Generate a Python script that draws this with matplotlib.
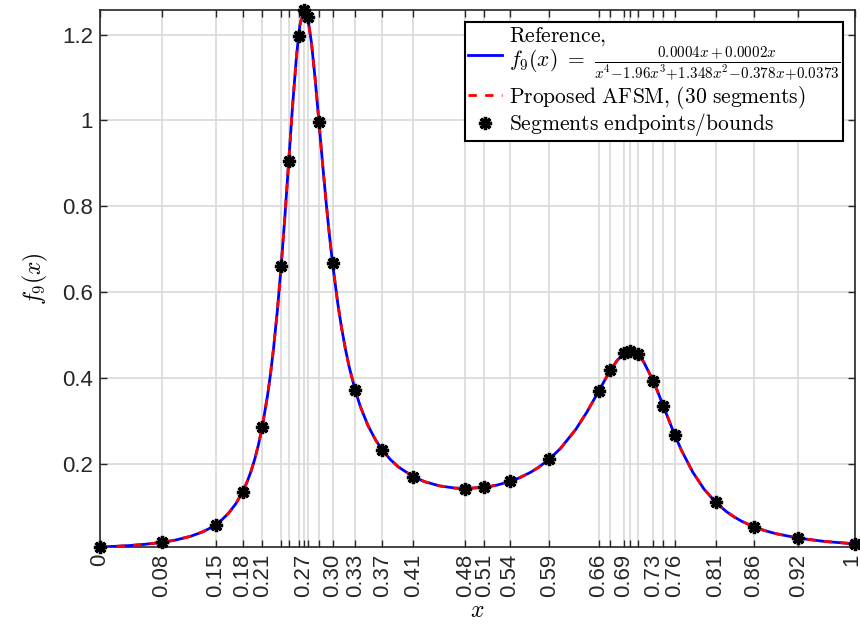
import matplotlib
matplotlib.use('Agg')
import matplotlib.pyplot as plt
import matplotlib.transforms as mtransforms

# Segment endpoints (x positions of the 30-segment bounds) and values
seg_x = [0, 0.082, 0.153, 0.189, 0.215, 0.240, 0.250, 0.263, 0.270, 0.275, 0.290,
         0.308, 0.338, 0.374, 0.415, 0.484, 0.509, 0.543, 0.595, 0.661, 0.676,
         0.694, 0.702, 0.712, 0.733, 0.746, 0.761, 0.8155, 0.866, 0.925, 1.0]
seg_y = [0.0054, 0.0162, 0.0574, 0.1342, 0.2863, 0.6613, 0.9057, 1.197, 1.2575, 1.2415, 0.9962,
         0.6672, 0.3707, 0.2313, 0.1692, 0.1418, 0.1445, 0.1582, 0.2100, 0.3703, 0.4171,
         0.4566, 0.4620, 0.4547, 0.3918, 0.3344, 0.2677, 0.1095, 0.0526, 0.0261, 0.0127]
xtick_labels = ['0', '0.08', '0.15', '0.18', '0.21', '', '', '', '0.27', '', '',
                '0.30', '0.33', '0.37', '0.41', '0.48', '0.51', '0.54', '0.59', '0.66', '',
                '0.69', '', '', '0.73', '', '0.76', '0.81', '0.86', '0.92', '1']

# Reference curve values
ref_x = [0, 0.02, 0.04, 0.06, 0.082, 0.1, 0.12, 0.135, 0.145, 0.153, 0.162, 0.17, 0.18,
         0.189, 0.195, 0.2, 0.205, 0.21, 0.215, 0.222, 0.226, 0.23, 0.235, 0.24, 0.245, 0.25,
         0.255, 0.26, 0.263, 0.265, 0.27, 0.275, 0.28, 0.285, 0.29, 0.295, 0.30, 0.304, 0.308,
         0.315, 0.32, 0.325, 0.33, 0.338, 0.345, 0.355, 0.365, 0.374, 0.385, 0.395, 0.415,
         0.43, 0.45, 0.47, 0.484, 0.509, 0.525, 0.543, 0.555, 0.57, 0.58, 0.595, 0.61,
         0.63, 0.645, 0.661, 0.67, 0.676, 0.685, 0.694, 0.702, 0.707, 0.712, 0.72, 0.733,
         0.74, 0.746, 0.761, 0.77, 0.785, 0.8, 0.8155, 0.83, 0.84, 0.85, 0.866, 0.88,
         0.895, 0.925, 0.96, 1.0]
ref_y = [0.0054, 0.0069, 0.0089, 0.0118, 0.0162, 0.0216, 0.0304, 0.0400, 0.0487, 0.0574, 0.0698, 0.0837, 0.1065,
         0.1342, 0.1579, 0.1818, 0.2104, 0.2448, 0.2863, 0.3596, 0.4110, 0.4707, 0.5584, 0.6613, 0.7787, 0.9057,
         1.0325, 1.1446, 1.197, 1.2240, 1.2575, 1.2415, 1.1823, 1.0960, 0.9962, 0.8953, 0.8000, 0.7302, 0.6672,
         0.5725, 0.5160, 0.4674, 0.4257, 0.3707, 0.3320, 0.2884, 0.2550, 0.2313, 0.2086, 0.1924, 0.1692,
         0.1577, 0.1478, 0.1428, 0.1418, 0.1445, 0.1494, 0.1582, 0.1663, 0.1793, 0.1901, 0.2100, 0.2354,
         0.2792, 0.3203, 0.3703, 0.3990, 0.4171, 0.4406, 0.4566, 0.4620, 0.4604, 0.4547, 0.4374, 0.3918,
         0.3616, 0.3344, 0.2677, 0.2314, 0.1803, 0.1405, 0.1095, 0.0875, 0.0755, 0.0654, 0.0526, 0.0439,
         0.0366, 0.0261, 0.0183, 0.0127]

yticks = [0.2, 0.4, 0.6, 0.8, 1.0, 1.2]
ytick_labels = ['0.2', '0.4', '0.6', '0.8', '1', '1.2']

plt.rcParams['mathtext.fontset'] = 'cm'
plt.rcParams['font.family'] = ['Liberation Sans', 'DejaVu Sans']

fig = plt.figure(figsize=(8.6, 6.26), dpi=100)
ax = fig.add_axes([100/860, 1-547/626, 755/860, 537/626])

lab_ref = ('$\\mathrm{Reference{,}}$\n'
           '$f_9(x)\\ =\\ \\frac{0.0004x + 0.0002x}'
           '{x^4\\!-\\!1.96x^3\\!+\\!1.348x^2\\!-\\!0.378x\\!+\\!0.0373}$')
ax.plot(ref_x, ref_y, color='#0000ff', lw=2, label=lab_ref, zorder=3)
ax.plot(ref_x, ref_y, color='#ff0000', lw=2, ls=(0, (3, 3)),
        label='$\\mathrm{Proposed\\ AFSM{,}\\ (30\\ segments)}$', zorder=4)
ax.plot(seg_x, seg_y, ls='none', marker=(8, 2, 0), ms=9.5, mew=2.4, color='black',
        label='$\\mathrm{Segments\\ endpoints/bounds}$', zorder=5, clip_on=False)

ax.set_xlim(0, 1)
ax.set_ylim(0.0054, 1.2575)
ax.set_xticks(seg_x)
ax.set_xticklabels(xtick_labels, rotation=90)
ax.set_yticks(yticks)
ax.set_yticklabels(ytick_labels)
ax.tick_params(direction='in', top=True, right=True, length=5, width=1,
               labelsize=16, colors='#262626', pad=5)
ax.grid(True, color='#d9d9d9', lw=1.2)
ax.set_axisbelow(True)
for s in ax.spines.values():
    s.set_linewidth(1.2)
    s.set_color('#262626')

# nudge the last x tick label slightly inward so it stays inside the canvas
last = ax.get_xticklabels()[-1]
last.set_transform(last.get_transform() +
                   mtransforms.ScaledTranslation(-3/100, 0, fig.dpi_scale_trans))

ax.set_xlabel('$x$', fontsize=17, labelpad=2)
ax.set_ylabel('$f_9(x)$', fontsize=17, labelpad=9)

leg = ax.legend(loc='upper right', fontsize=15.5, frameon=True, fancybox=False,
                edgecolor='black', framealpha=1, borderpad=0.15, handlelength=1.6,
                handletextpad=0.3, labelspacing=0.02, borderaxespad=0.55)
leg.get_frame().set_linewidth(1.5)
leg.get_texts()[0].set_linespacing(0.85)

fig.savefig('out.png', dpi=100)
